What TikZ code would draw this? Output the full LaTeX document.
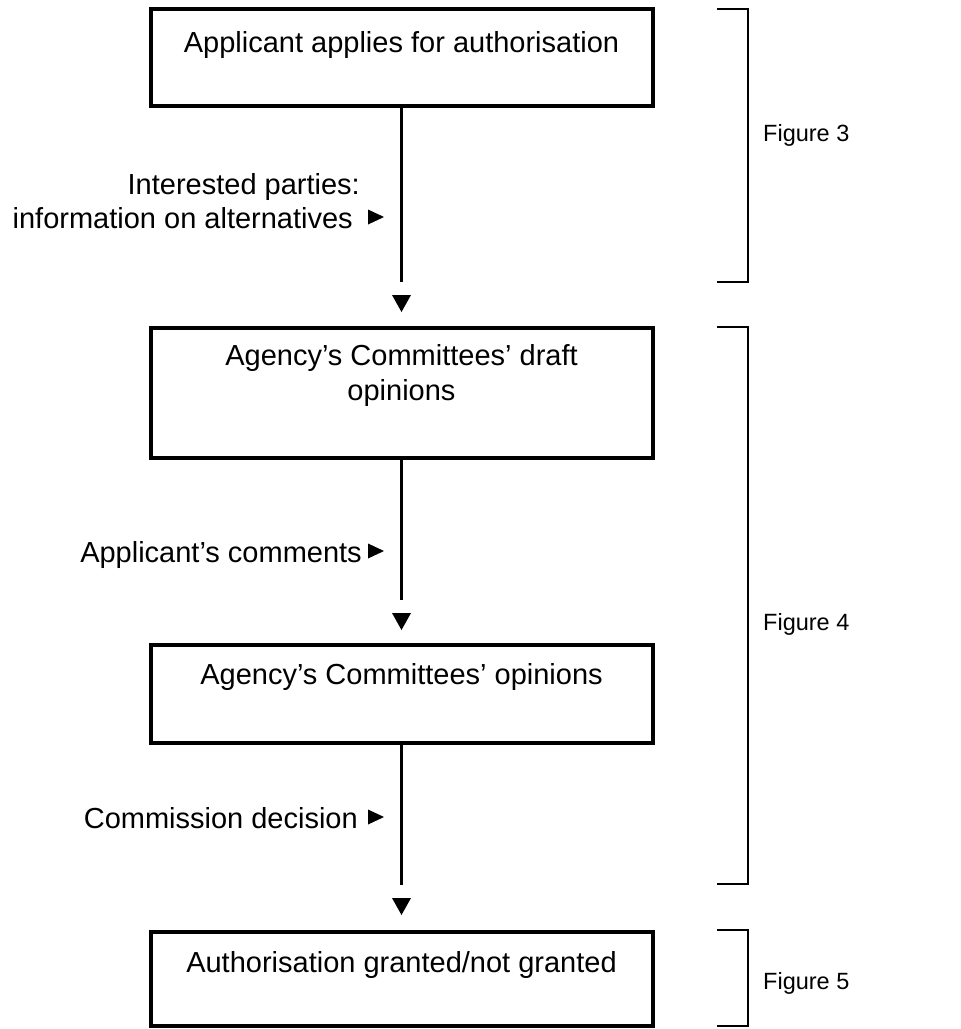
\documentclass[tikz,border=0pt]{standalone}
\usepackage{fontspec}
\setmainfont{Liberation Sans}
\begin{document}
\begin{tikzpicture}[x=1pt,y=-1pt,
  box/.style={draw, line width=4pt, minimum width=502pt, inner sep=0pt},
  txt/.style={font=\fontsize{29}{35}\selectfont, inner sep=0pt, align=center},
  lbl/.style={font=\fontsize{29}{32}\selectfont, inner sep=0pt, align=right, anchor=base east},
  figlbl/.style={font=\fontsize{23.5}{27}\selectfont, inner sep=0pt, anchor=base west},
  conn/.style={line width=2.2pt},
  bracket/.style={line width=2.5pt},
  downmark/.pic={\fill (-9.5,0) -- (9.5,0) -- (0,17) -- cycle;},
  rightmark/.pic={\fill (0,-7.5) -- (0,7.5) -- (16,0) -- cycle;}
]
\useasboundingbox (0,0) rectangle (961,1029);

% process boxes
\node[box, minimum height=97pt]  (b1) at (401.5,57.5) {};
\node[box, minimum height=130pt] (b2) at (401.5,393) {};
\node[box, minimum height=98pt]  (b3) at (401.5,694) {};
\node[box, minimum height=94pt]  (b4) at (401.5,979) {};

% box captions (base of a two-line caption is its last line)
\node[txt, anchor=base] (t1) at (401.5,52) {Applicant applies for authorisation};
\node[txt, anchor=base] (t2) at (401.5,400) {Agency’s Committees’ draft\\opinions};
\node[txt, anchor=base] (t3) at (401.5,684) {Agency’s Committees’ opinions};
\node[txt, anchor=base] (t4) at (401.5,972) {Authorisation granted/not granted};

% connectors and their down markers
\coordinate (e1) at (401.5,282);
\coordinate (e2) at (401.5,600);
\coordinate (e3) at (401.5,885);
\draw[conn] (b1.south) -- (e1);
\draw[conn] (b2.south) -- (e2);
\draw[conn] (b3.south) -- (e3);
\pic at (401.5,295) {downmark};
\pic at (401.5,613) {downmark};
\pic at (401.5,898) {downmark};

% side inputs
\node[lbl] (l1) at (360,194) {Interested parties:};
\node[lbl] (l1b) at (353,228) {information on alternatives};
\pic at (368,217) {rightmark};
\node[lbl] (l2) at (362,562) {Applicant’s comments};
\pic at (368,551) {rightmark};
\node[lbl] (l3) at (358,828) {Commission decision};
\pic at (368,817) {rightmark};

% figure brackets
\draw[bracket] (717,9) -- (748,9) -- (748,282) -- (717,282);
\draw[bracket] (717,327) -- (748,327) -- (748,884) -- (717,884);
\draw[bracket] (717,930) -- (748,930) -- (748,1026) -- (717,1026);
\node[figlbl] (f3) at (763,141) {Figure 3};
\node[figlbl] (f4) at (763,630) {Figure 4};
\node[figlbl] (f5) at (763,989) {Figure 5};
\end{tikzpicture}
\end{document}
